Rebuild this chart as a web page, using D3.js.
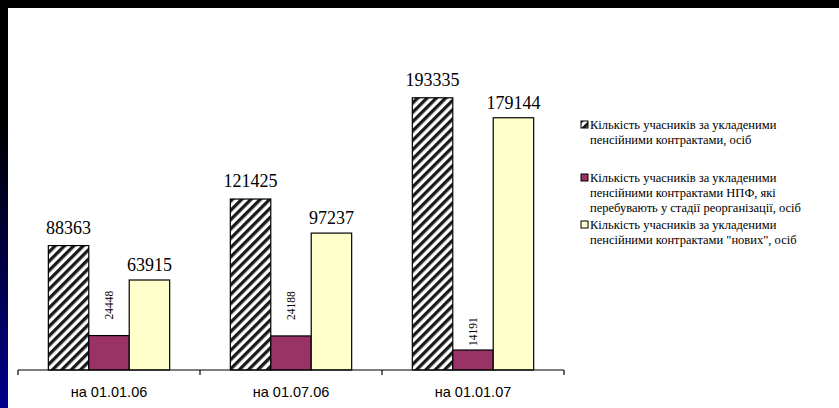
<!DOCTYPE html>
<html>
<head>
<meta charset="utf-8">
<script src="https://cdn.jsdelivr.net/npm/d3@7"></script>
<style>
  html, body { margin: 0; padding: 0; background: #ffffff; overflow: hidden; }
  svg { display: block; position: absolute; left: 0; top: 0; }
</style>
</head>
<body>
<svg id="chart" width="839" height="408"></svg>
<script>
// ---- data ----
const categories = ["на 01.01.06", "на 01.07.06", "на 01.01.07"];
const seriesNames = [
  "Кількість учасників за укладеними пенсійними контрактами, осіб",
  "Кількість учасників за укладеними пенсійними контрактами НПФ, які перебувають у стадії реорганізації, осіб",
  "Кількість учасників за укладеними пенсійними контрактами \"нових\", осіб"
];
const legendLines = [
  ["Кількість учасників за укладеними", "пенсійними контрактами, осіб"],
  ["Кількість учасників за укладеними", "пенсійними контрактами НПФ, які", "перебувають у стадії реорганізації, осіб"],
  ["Кількість учасників за укладеними", "пенсійними контрактами \"нових\", осіб"]
];
const totalValues = [88363, 121425, 193335];
const reorgValues = [24448, 24188, 14191];
const newValues = [63915, 97237, 179144];
const yDomainMax = 250000;

// ---- style / layout ----
const SERIF = "'Liberation Serif', 'Times New Roman', serif";
const SANS = "'Liberation Sans', Arial, sans-serif";
const seriesFills = ["url(#hatch)", "#993366", "#FFFFCC"];
const smallLabelGap = [16, 16, 4];
const bigLabelGap = [12, null, 9];

const svg = d3.select("#chart");
const W = 839, H = 408;

const defs = svg.append("defs");
const grad = defs.append("linearGradient").attr("id", "sideGrad")
  .attr("x1", 0).attr("y1", 0).attr("x2", 0).attr("y2", 1);
grad.append("stop").attr("offset", "0%").attr("stop-color", "#000000");
grad.append("stop").attr("offset", "30%").attr("stop-color", "#000000");
grad.append("stop").attr("offset", "100%").attr("stop-color", "#00008C");

const pat = defs.append("pattern").attr("id", "hatch")
  .attr("patternUnits", "userSpaceOnUse")
  .attr("width", 6.6).attr("height", 6.6)
  .attr("patternTransform", "rotate(45)");
pat.append("rect").attr("width", 6.6).attr("height", 6.6).attr("fill", "#ffffff");
pat.append("rect").attr("x", 0).attr("width", 3.3).attr("height", 6.6).attr("fill", "#1a1a1a");

// background
svg.append("rect").attr("width", W).attr("height", H).attr("fill", "#ffffff");
svg.append("rect").attr("x", 0).attr("y", 0).attr("width", W).attr("height", 8).attr("fill", "#000");
svg.append("rect").attr("x", 0).attr("y", 0).attr("width", 8).attr("height", H).attr("fill", "url(#sideGrad)");

// scales
const x = d3.scaleBand().domain(categories).range([18, 564]).paddingInner(0).paddingOuter(0);
const y = d3.scaleLinear().domain([0, yDomainMax]).range([370, 18]);
const barW = x.bandwidth() / 4.5;
const xs = d3.scaleBand().domain([0, 1, 2]).range([0, barW * 3]);
const barX = (i, si) => x(categories[i]) + (x.bandwidth() - barW * 3) / 2 + xs(si);

const seriesData = [totalValues, reorgValues, newValues];

const g = svg.append("g");

seriesData.forEach((vals, si) => {
  g.selectAll(".bar" + si)
    .data(vals)
    .enter().append("rect")
    .attr("x", (d, i) => barX(i, si))
    .attr("y", d => y(d))
    .attr("width", barW)
    .attr("height", d => y(0) - y(d))
    .attr("fill", seriesFills[si])
    .attr("stroke", "#000")
    .attr("stroke-width", 1.2);
});

// x axis
const axis = d3.axisBottom(x).tickSize(0).tickFormat("");
const ax = svg.append("g").attr("transform", "translate(0,370)").call(axis);
ax.select(".domain").attr("stroke", "#000").attr("stroke-width", 1.2).attr("d", "M18,0H564");
const tickXs = [18].concat(categories.map(c => x(c) + x.bandwidth()));
ax.selectAll(".tk").data(tickXs).enter().append("line")
  .attr("x1", d => d).attr("x2", d => d).attr("y1", 0).attr("y2", 5)
  .attr("stroke", "#000").attr("stroke-width", 1.2);
ax.selectAll(".cl").data(categories).enter().append("text")
  .attr("x", d => x(d) + x.bandwidth() / 2)
  .attr("y", 22)
  .attr("dy", "0.35em")
  .attr("text-anchor", "middle")
  .style("font-family", SANS)
  .style("font-size", "14.5px")
  .attr("fill", "#000")
  .text(d => d);

// value labels
[0, 2].forEach(si => {
  g.selectAll(".lab" + si).data(seriesData[si]).enter().append("text")
    .attr("x", (d, i) => barX(i, si) + barW / 2)
    .attr("y", d => y(d) - bigLabelGap[si])
    .attr("text-anchor", "middle")
    .style("font-family", SERIF)
    .style("font-size", "18px")
    .attr("fill", "#000")
    .text(d => d);
});
g.selectAll(".lab1").data(reorgValues).enter().append("text")
  .attr("transform", (d, i) => `translate(${barX(i, 1) + barW / 2},${y(d) - smallLabelGap[i]}) rotate(-90)`)
  .attr("dy", "0.35em")
  .attr("text-anchor", "start")
  .style("font-family", SERIF)
  .style("font-size", "11.5px")
  .attr("fill", "#000")
  .text(d => d);

// legend
const legendTop = [125, 178, 225];
const leg = svg.append("g");
legendLines.forEach((lines, si) => {
  leg.append("rect")
    .attr("x", 581).attr("y", legendTop[si] - 4)
    .attr("width", 7).attr("height", 7)
    .attr("fill", seriesFills[si])
    .attr("stroke", "#000").attr("stroke-width", 1);
  const t = leg.append("text")
    .style("font-family", SERIF)
    .style("font-size", "12.5px")
    .attr("fill", "#000");
  lines.forEach((ln, li) => {
    t.append("tspan").attr("x", 590).attr("y", legendTop[si] + li * 15).attr("dy", "0.35em").text(ln);
  });
});
</script>
</body>
</html>
